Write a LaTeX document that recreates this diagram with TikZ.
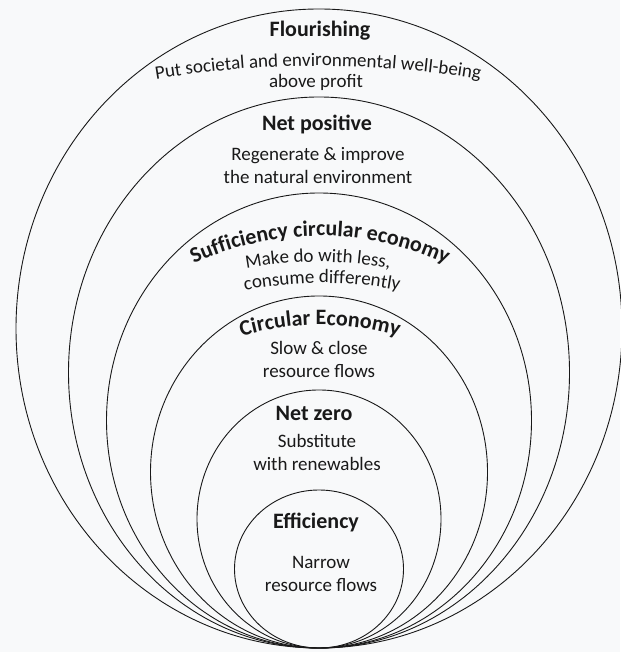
\documentclass[tikz,border=0pt]{standalone}
\usepackage{fontspec}
\setmainfont{Carlito}
\usepackage{tikz}
\usetikzlibrary{decorations.text}
\definecolor{paper}{RGB}{248,249,250}
\definecolor{ink}{RGB}{25,25,25}
\newcommand{\headfont}{\fontsize{22}{26}\selectfont\bfseries}
\newcommand{\bodyfont}{\fontsize{19}{23}\selectfont}
\tikzset{
	ring/.style={draw=ink,line width=0.9pt},
	head node/.style={font=\headfont,text=ink,inner sep=0pt},
	body node/.style={font=\bodyfont,text=ink,inner sep=0pt,align=center}
}

\begin{document}
\begin{tikzpicture}[x=1pt,y=1pt]
\fill[paper] (0,0) rectangle (620,652);
\useasboundingbox (0,0) rectangle (620,652);
\draw[ring] (319,323.5) ellipse [x radius=303, y radius=319.5];
\draw[ring] (319,279.5) ellipse [x radius=250.5, y radius=275.5];
\draw[ring] (319,231.5) ellipse [x radius=212.5, y radius=227.5];
\draw[ring] (319,180) ellipse [x radius=168.5, y radius=176];
\draw[ring] (319,133) ellipse [x radius=122, y radius=129];
\draw[ring] (319,83) ellipse [x radius=84.5, y radius=79];

\node[head node] (flourishing) at (320,621) {Flourishing};
\path[decorate,decoration={text along path,text align=center,
  text={|\bodyfont\color{ink}|Put societal and environmental well-being}}]
  (318,-414) ++(102:1000) arc [start angle=102, end angle=78, radius=1000];
\node[body node] (profit) at (316,570) {above profit};

\node[head node] (netpos) at (317,527) {Net positive};
\node[body node] (regen) at (318,486) {Regenerate \& improve\\the natural environment};

\path[decorate,decoration={text along path,text align=center,
  text={|\headfont\color{ink}|Sufficiency circular economy}}]
  (320,117) ++(122:299) arc [start angle=122, end angle=58, radius=299];
\path[decorate,decoration={text along path,text align=center,
  text={|\bodyfont\color{ink}|Make do with less,}}]
  (318,-10) ++(105:400) arc [start angle=105, end angle=75, radius=400];
\path[decorate,decoration={text along path,text align=center,
  text={|\bodyfont\color{ink}|consume differently}}]
  (322,-31) ++(105:400) arc [start angle=105, end angle=75, radius=400];

\path[decorate,decoration={text along path,text align=center,
  text={|\headfont\color{ink}|Circular Economy}}]
  (320,45) ++(115:282) arc [start angle=115, end angle=65, radius=282];
\node[body node] (slow) at (319,292.5) {Slow \& close\\resource flows};

\node[head node] (netzero) at (314,239) {Net zero};
\node[body node] (subst) at (317,200) {Substitute\\with renewables};

\node[head node] (eff) at (316,130) {Efficiency};
\node[body node] (narrow) at (321,78.5) {Narrow\\resource flows};
\end{tikzpicture}
\end{document}
